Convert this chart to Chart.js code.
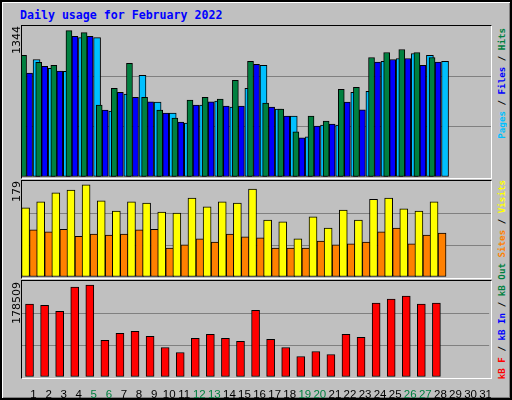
<!DOCTYPE html>
<html>
<head>
<meta charset="utf-8">
<script src="https://cdn.jsdelivr.net/npm/chart.js@4/dist/chart.umd.min.js"></script>
<style>
  body { margin: 0; }
  #frame { position: relative; width: 508px; height: 396px; background: #c0c0c0;
           border: 2px solid #000; box-shadow: inset 1px 1px 0 #fff, inset -1px -1px 0 #808080; }
  .panel { position: absolute; left: 19px; width: 469px; border-top: 1px solid #000; border-left: 1px solid #000;
           border-bottom: 1px solid #fff; border-right: 1px solid #fff; }
  canvas { position: absolute; }
  .title { position: absolute; left: 18px; top: 6px; font: bold 11.6px "DejaVu Sans Mono", monospace; color: #0000ff; }
  .vlab { position: absolute; writing-mode: vertical-rl; transform: rotate(180deg); white-space: nowrap; }
  .max { font: 11px "DejaVu Sans", sans-serif; color: #000; left: 8px; }
  .key { font: bold 9.2px "DejaVu Sans Mono", monospace; left: 494px; }
</style>
</head>
<body>
<div id="frame">
  <div class="title">Daily usage for February 2022</div>
  <div class="panel" style="top:23px;height:152px"></div>
  <div class="panel" style="top:178px;height:97px"></div>
  <div class="panel" style="top:278px;height:97px"></div>
  <canvas id="c1" style="left:20px;top:24px;width:469px;height:151px"></canvas>
  <canvas id="c2" style="left:20px;top:179px;width:469px;height:96px"></canvas>
  <canvas id="c3" style="left:20px;top:279px;width:469px;height:117px"></canvas>
  <div class="vlab max" style="top:24px">1344</div>
  <div class="vlab max" style="top:179px">179</div>
  <div class="vlab max" style="top:280px">178509</div>
  <div class="vlab key" style="top:26px"><span style="color:#00c0ff">Pages</span> / <span style="color:#0000ff">Files</span> / <span style="color:#008040">Hits</span></div>
  <div class="vlab key" style="top:178px"><span style="color:#ff0000">kB F</span> / <span style="color:#0000ff">kB In</span> / <span style="color:#008040">kB Out</span> <span style="color:#ff8000">Sites</span> / <span style="color:#ffff00">Visits</span></div>
</div>
<script>
// --- DATA ---
const days = Array.from({ length: 31 }, (_, i) => String(i + 1));
const weekendDays = ["5", "6", "12", "13", "19", "20", "26", "27"];

const hits  = [1082, 1020, 993, 1303, 1285, 640, 790, 1011, 710, 595, 525, 684, 710, 693, 860, 1029, 657, 604, 401, 542, 498, 781, 799, 1064, 1108, 1135, 1108, 1064];
const files = [925, 984, 943, 1252, 1252, 595, 754, 710, 669, 569, 489, 640, 669, 631, 631, 1002, 622, 542, 348, 454, 472, 666, 598, 1023, 1046, 1055, 993, 1023];
const pages = [1046, 967, 940, 1241, 1241, 586, 737, 905, 666, 569, 480, 640, 675, 622, 790, 993, 604, 542, 357, 463, 463, 754, 763, 1029, 1055, 1099, 1082, 1029];

const visits = [129, 140, 157, 162, 172, 142, 123, 140, 138, 121, 119, 147, 131, 140, 138, 164, 106, 103, 71, 112, 91, 125, 106, 145, 147, 127, 123, 140];
const sites  = [88, 84, 89, 76, 80, 78, 80, 88, 89, 54, 60, 71, 65, 80, 75, 73, 54, 54, 54, 67, 60, 62, 65, 84, 91, 62, 78, 82];

const kbytes = [135400, 133500, 122300, 167200, 171000, 68000, 81100, 84900, 75500, 54900, 45600, 71800, 79200, 71800, 66100, 124200, 69900, 54900, 38100, 47400, 41800, 79200, 73600, 137300, 144800, 150400, 135400, 137300];

const maxHits = 1344, maxVisits = 179, maxKB = 178509;

// --- SHARED ---
function bar(data, color, cp, thickness) {
    return { data, backgroundColor: color, borderColor: '#000', borderWidth: 1,
             categoryPercentage: cp, barThickness: thickness, borderSkipped: false };
}

function makeChart(id, datasets, max, showTicks) {
    return new Chart(document.getElementById(id), {
        type: 'bar',
        data: { labels: days, datasets },
        options: {
            responsive: false, animation: false,
            layout: { padding: 0 },
            plugins: { legend: { display: false }, tooltip: { enabled: false } },
            scales: {
                x: {
                    grid: { display: false }, border: { display: false },
                    ticks: {
                        display: showTicks, autoSkip: false, maxRotation: 0, padding: 3, labelOffset: 4,
                        font: { family: 'Liberation Sans', size: 11.5 },
                        color: ctx => weekendDays.includes(days[ctx.index]) ? '#008040' : '#000'
                    },
                    afterFit: s => { s.height = showTicks ? 21 : 0; }
                },
                y: {
                    display: true, min: 0, max,
                    ticks: { display: false, stepSize: max / 3 },
                    grid: { color: c => (c.tick.value > 0 && c.tick.value < max) ? '#808080' : 'rgba(0,0,0,0)', lineWidth: 1, drawTicks: false },
                    border: { display: false },
                    afterFit: s => { s.width = 0; }
                }
            }
        }
    });
}

function sizeCanvas(id) {
    const c = document.getElementById(id);
    c.width = parseInt(c.style.width); c.height = parseInt(c.style.height);
}
['c1', 'c2', 'c3'].forEach(sizeCanvas);

makeChart('c1', [
    bar(hits, '#008040', 0.4, 6),
    bar(files, '#0000ff', 0.4, 6),
    bar(pages, '#00c0ff', 0.4, 7)
], maxHits, false);

makeChart('c2', [
    bar(visits, '#ffff00', 0.37, 8),
    bar(sites, '#ff8000', 0.37, 8)
], maxVisits, false);

makeChart('c3', [
    bar(kbytes, '#ff0000', 0.5, 8)
], maxKB, true);
</script>
</body>
</html>
